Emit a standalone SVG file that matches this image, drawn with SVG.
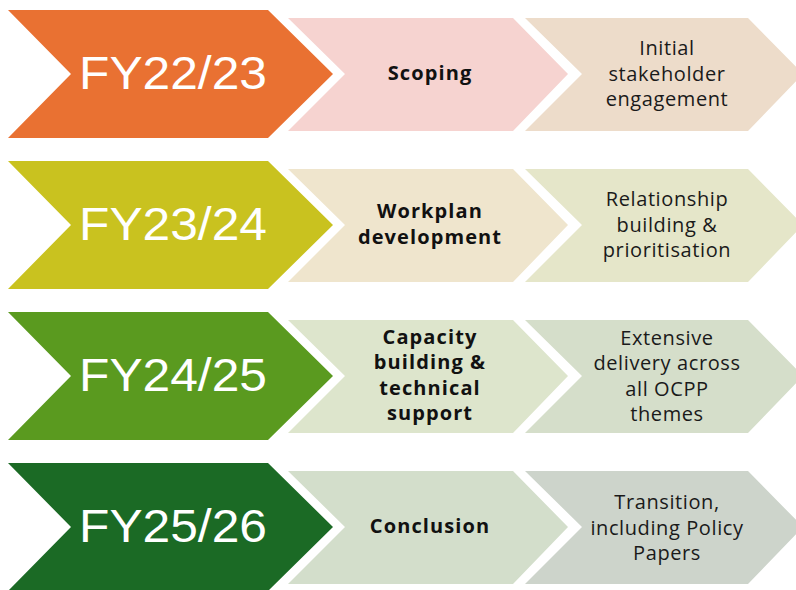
<svg xmlns="http://www.w3.org/2000/svg" width="796" height="590" viewBox="0 0 796 590">
  <style>
    .year { font-family: "Liberation Sans", Arial, sans-serif; font-size: 46px; fill: #ffffff; text-anchor: middle; }
    .phase { font-family: "Open Sans", "Liberation Sans", sans-serif; font-size: 20px; font-weight: 700; fill: #111111; text-anchor: middle; letter-spacing: 1.1px; }
    .note { font-family: "Open Sans", "Liberation Sans", sans-serif; font-size: 20px; fill: #1a1a1a; text-anchor: middle; letter-spacing: 0.6px; }
  </style>
  <defs>
    <!-- chevron outlines, positioned per row with translate -->
    <polygon id="big" points="8,0 268,0 333,64 268,128 8,128 71,64"/>
    <polygon id="mid" points="288,8 513,8 568,64 513,121 288,121 345,64"/>
    <polygon id="end" points="525,8 748,8 803,64 748,121 525,121 582,64"/>
  </defs>

  <rect width="796" height="590" fill="#ffffff"/>

  <!-- Row 1 -->
  <g id="fy2223" transform="translate(0,10)">
    <use href="#big" fill="#E97132"/>
    <text class="year" x="173" y="79" textLength="188" lengthAdjust="spacingAndGlyphs">FY22/23</text>
  </g>
  <g id="scoping" transform="translate(0,10)">
    <use href="#mid" fill="#F6D3D0"/>
    <text class="phase" x="430" y="70">Scoping</text>
  </g>
  <g id="initial-engagement" transform="translate(0,10)">
    <use href="#end" fill="#EDDCCA"/>
    <text class="note" x="667" y="45">Initial</text>
    <text class="note" x="667" y="71">stakeholder</text>
    <text class="note" x="667" y="96">engagement</text>
  </g>

  <!-- Row 2 -->
  <g id="fy2324" transform="translate(0,161)">
    <use href="#big" fill="#C9C21F"/>
    <text class="year" x="173" y="79" textLength="188" lengthAdjust="spacingAndGlyphs">FY23/24</text>
  </g>
  <g id="workplan" transform="translate(0,161)">
    <use href="#mid" fill="#EFE5CD"/>
    <text class="phase" x="430" y="57">Workplan</text>
    <text class="phase" x="430" y="83">development</text>
  </g>
  <g id="relationship" transform="translate(0,161)">
    <use href="#end" fill="#E5E6C9"/>
    <text class="note" x="667" y="45">Relationship</text>
    <text class="note" x="667" y="71">building &amp;</text>
    <text class="note" x="667" y="96">prioritisation</text>
  </g>

  <!-- Row 3 -->
  <g id="fy2425" transform="translate(0,312)">
    <use href="#big" fill="#5A9A1F"/>
    <text class="year" x="173" y="79" textLength="188" lengthAdjust="spacingAndGlyphs">FY24/25</text>
  </g>
  <g id="capacity" transform="translate(0,312)">
    <use href="#mid" fill="#DDE5CC"/>
    <text class="phase" x="430" y="32">Capacity</text>
    <text class="phase" x="430" y="57">building &amp;</text>
    <text class="phase" x="430" y="83">technical</text>
    <text class="phase" x="430" y="108">support</text>
  </g>
  <g id="delivery" transform="translate(0,312)">
    <use href="#end" fill="#D5DECA"/>
    <text class="note" x="667" y="33">Extensive</text>
    <text class="note" x="667" y="58">delivery across</text>
    <text class="note" x="667" y="84">all OCPP</text>
    <text class="note" x="667" y="109">themes</text>
  </g>

  <!-- Row 4 -->
  <g id="fy2526" transform="translate(0,463)">
    <use href="#big" fill="#1B6A25"/>
    <text class="year" x="173" y="79" textLength="188" lengthAdjust="spacingAndGlyphs">FY25/26</text>
  </g>
  <g id="conclusion" transform="translate(0,463)">
    <use href="#mid" fill="#D3DECB"/>
    <text class="phase" x="430" y="70">Conclusion</text>
  </g>
  <g id="transition" transform="translate(0,463)">
    <use href="#end" fill="#CDD4CB"/>
    <text class="note" x="667" y="46">Transition,</text>
    <text class="note" x="667" y="72">including Policy</text>
    <text class="note" x="667" y="97">Papers</text>
  </g>

  <!-- no connectors: the chevrons abut directly -->
  <g id="connectors"/>
</svg>
